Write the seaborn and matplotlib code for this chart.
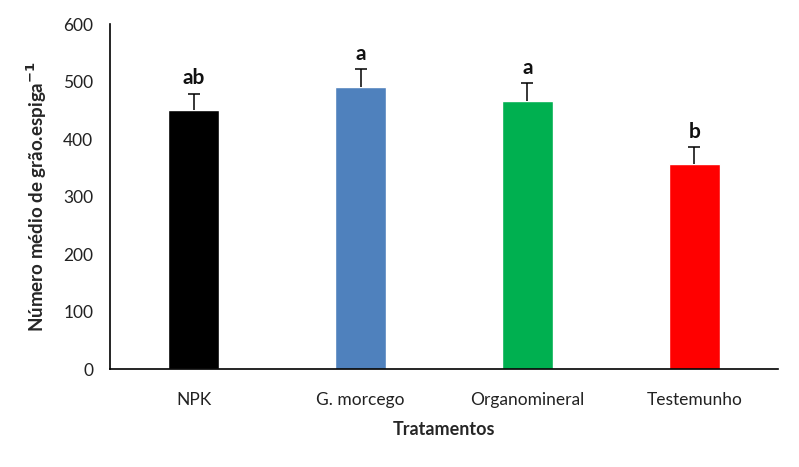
import matplotlib
matplotlib.use("Agg")
import matplotlib.pyplot as plt
import seaborn as sns
import pandas as pd

categories = ["NPK", "G. morcego", "Organomineral", "Testemunho"]
means = [450, 490, 466, 357]
errors = [29, 31, 31, 29]
letters = ["ab", "a", "a", "b"]
colors = ["#000000", "#4F81BD", "#00B050", "#FF0000"]
yticks = [0, 100, 200, 300, 400, 500, 600]

sns.set_theme(style="white")
plt.rcParams["font.family"] = ["Lato", "DejaVu Sans"]

df = pd.DataFrame({"Tratamento": categories, "Valor": means})

fig = plt.figure(figsize=(7.99, 4.67), dpi=100)
ax = fig.add_axes([0.1377, 0.2092, 0.836, 0.7394])

sns.barplot(data=df, x="Tratamento", y="Valor", hue="Tratamento",
            palette=colors, width=0.31, saturation=1, legend=False, ax=ax)

xs = list(range(len(categories)))
_, caplines, _ = ax.errorbar(xs, means, yerr=[[0]*len(errors), errors],
                             fmt="none", ecolor="black", elinewidth=1.1,
                             capsize=4.5, capthick=1.1)
caplines[0].set_visible(False)

for x, m, e, l in zip(xs, means, errors, letters):
    ax.annotate(l, (x, m + e), xytext=(0, 4), textcoords="offset points",
                ha="center", va="bottom", fontsize=15, fontweight="bold",
                color="#111111")

ax.set_ylim(0, 600)
ax.set_xlim(-0.5, 3.5)
ax.set_yticks(yticks)
ax.tick_params(axis="both", length=0, labelsize=12.5, colors="#222222")
ax.tick_params(axis="x", pad=16)
ax.tick_params(axis="y", pad=12)
for s in ["top", "right"]:
    ax.spines[s].set_visible(False)
for s in ["left", "bottom"]:
    ax.spines[s].set_color("black")
    ax.spines[s].set_linewidth(1.2)

ax.set_xlabel("Tratamentos", fontsize=13, fontweight="bold", labelpad=10)
ax.set_ylabel("Número médio de grão.espiga$^{\\mathbf{-1}}$", fontsize=13.5,
              fontweight="bold", labelpad=10)

fig.savefig("out.png", dpi=100)
